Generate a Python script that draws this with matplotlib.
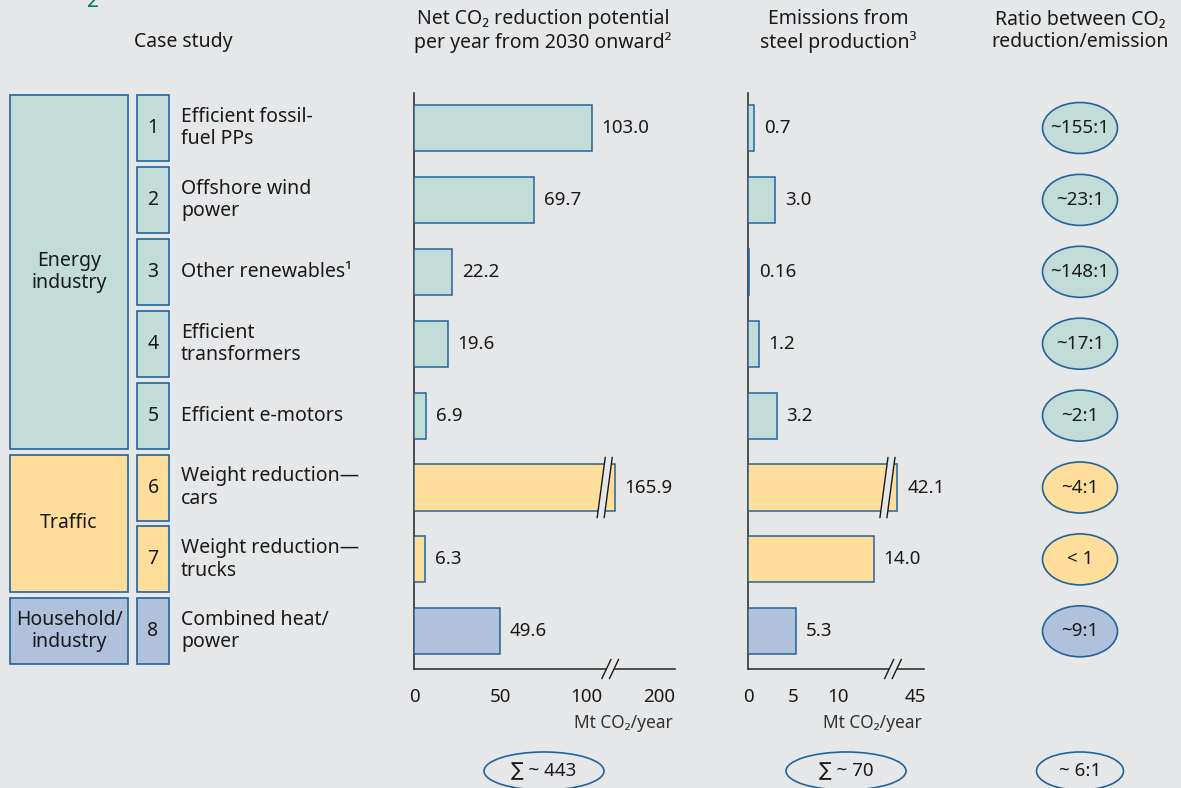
import numpy as np
import matplotlib
matplotlib.use('Agg')
import matplotlib.pyplot as plt
from matplotlib.patches import Rectangle, Ellipse, Polygon
from matplotlib.lines import Line2D
from matplotlib.transforms import Affine2D

plt.rcParams['font.family'] = ['Noto Sans', 'DejaVu Sans']

# data
case_numbers = ['1', '2', '3', '4', '5', '6', '7', '8']
case_studies = ['Efficient fossil-\nfuel PPs', 'Offshore wind\npower', 'Other renewables¹',
                'Efficient\ntransformers', 'Efficient e-motors', 'Weight reduction—\ncars',
                'Weight reduction—\ntrucks', 'Combined heat/\npower']
sectors = ['energy'] * 5 + ['traffic'] * 2 + ['household']
sector_names = {'energy': 'Energy\nindustry', 'traffic': 'Traffic', 'household': 'Household/\nindustry'}
reduction = [103.0, 69.7, 22.2, 19.6, 6.9, 165.9, 6.3, 49.6]
emissions = [0.7, 3.0, 0.16, 1.2, 3.2, 42.1, 14.0, 5.3]
ratios = ['~155:1', '~23:1', '~148:1', '~17:1', '~2:1', '~4:1', '< 1', '~9:1']
reduction_ticks = [0, 50, 100, 200]
emission_ticks = [0, 5, 10, 45]
totals = ['∑ ~ 443', '∑ ~ 70', '~ 6:1']
unit = 'Mt CO₂/year'

colors = {'energy': '#C2DDD7', 'traffic': '#FEDE9A', 'household': '#AFC1DB'}
EDGE = '#22649A'
BG = '#E6E7E9'
INK = '#1A1A1A'
FS = 14        # words
NFS = 13.5     # numbers
LS = 1.15
W, H = 1181, 788

fig = plt.figure(figsize=(W / 100, H / 100), dpi=100, facecolor=BG)
ov = fig.add_axes([0, 0, 1, 1])
ov.set_xlim(0, W)
ov.set_ylim(H, 0)
ov.axis('off')

ROW0, PITCH, HALF = 128, 71.9, 33
TOP, BASE = 93, 669


def row_y(i):
    return ROW0 + PITCH * i


def px_axes(l, t, r, b):
    return fig.add_axes([l / W, 1 - b / H, (r - l) / W, (b - t) / H])


def broken_scale(b, k):
    fwd = lambda x: np.where(x <= b, x, b + (x - b) * k)
    inv = lambda y: np.where(y <= b, y, b + (y - b) / k)
    return fwd, inv


def slash(ax, x, y, shift, half_h, dx, gap):
    # "//" break mark, sized in pixels around a data point
    cx, cy = ax.transData.transform((x, y))
    t = Affine2D().translate(cx + shift, cy)
    a = [(-gap / 2 - dx, -half_h), (-gap / 2 + dx, half_h)]
    b = [(gap / 2 - dx, -half_h), (gap / 2 + dx, half_h)]
    ax.add_patch(Polygon(a + b[::-1], closed=True, facecolor=BG, edgecolor='none',
                         transform=t, clip_on=False, zorder=5))
    for seg in (a, b):
        xs, ys = zip(*seg)
        ax.add_line(Line2D(xs, ys, color=INK, lw=1, transform=t, clip_on=False, zorder=6))


def bar_panel(left, right, values, ticks, ppu, brk, k, cap):
    ax = px_axes(left, TOP, right, BASE)
    ax.patch.set_alpha(0)
    fwd, inv = broken_scale(brk, k)
    ax.set_xscale('function', functions=(fwd, inv))
    ax.set_xlim(0, float(inv((right - left) / ppu)))
    ax.set_ylim((BASE - ROW0) / PITCH, -(ROW0 - TOP) / PITCH)
    for s in ('top', 'right'):
        ax.spines[s].set_visible(False)
    for s in ('left', 'bottom'):
        ax.spines[s].set_color('#333333')
        ax.spines[s].set_linewidth(1.2)
    ax.set_yticks([])
    ax.set_xticks(ticks)
    ax.set_xticklabels([str(t) for t in ticks])
    ax.tick_params(axis='x', length=0, pad=14, labelsize=NFS, labelcolor=INK)
    for i, v in enumerate(values):
        w = min(v, cap)
        ax.barh(i, w, height=0.64, color=colors[sectors[i]], edgecolor=EDGE, linewidth=1.1, zorder=3)
        ax.annotate(f'{v:g}' if v < 1 else f'{v:.1f}', (w, i), xytext=(7, 0), textcoords='offset points',
                    va='center', ha='left', fontsize=NFS, color=INK)
        if v > cap:
            slash(ax, w, i, -10, 30, 4, 7)
    slash(ax, cap, ax.get_ylim()[0], -4.5, 9.5, 4.5, 7.6)
    ov.text(right - 2, 723, unit, ha='right', va='center', fontsize=12.5, color='#333333')
    return ax


bar_panel(414, 675, reduction, reduction_ticks, 1.728, 116, 0.307, 116.5)
bar_panel(748, 924, emissions, emission_ticks, 9.0, 16.6, 0.069, 16.7)

# headers
ov.text(93, 7, '2', color='#00795E', fontsize=15, fontweight='bold', ha='center', va='baseline')
ov.text(183, 42, 'Case study', ha='center', va='center', fontsize=FS, color=INK)
ov.text(543, 31, 'Net CO₂ reduction potential\nper year from 2030 onward²', ha='center', va='center',
        fontsize=FS, color=INK, linespacing=LS)
ov.text(838, 31, 'Emissions from\nsteel production³', ha='center', va='center',
        fontsize=FS, color=INK, linespacing=LS)
ov.text(1080, 31, 'Ratio between CO₂\nreduction/emission', ha='center', va='center',
        fontsize=FS, color=INK, linespacing=LS)

# sector boxes
for sec in ('energy', 'traffic', 'household'):
    rows = [i for i, s in enumerate(sectors) if s == sec]
    top = row_y(rows[0]) - HALF
    bot = row_y(rows[-1]) + HALF
    ov.add_patch(Rectangle((10, top), 118, bot - top, facecolor=colors[sec], edgecolor=EDGE, lw=1.2))
    ov.text(69, (top + bot) / 2, sector_names[sec], ha='center', va='center', fontsize=FS,
            color=INK, linespacing=LS)

# case study rows + ratio ovals
for i, (n, name) in enumerate(zip(case_numbers, case_studies)):
    y = row_y(i)
    ov.add_patch(Rectangle((137, y - HALF), 32, 2 * HALF, facecolor=colors[sectors[i]], edgecolor=EDGE, lw=1.2))
    ov.text(153, y, n, ha='center', va='center', fontsize=FS, color=INK)
    ov.text(181, y, name, ha='left', va='center', fontsize=FS, color=INK, linespacing=LS)
    ov.add_patch(Ellipse((1080, y), 75, 51, facecolor=colors[sectors[i]], edgecolor=EDGE, lw=1.2))
    ov.text(1080, y, ratios[i], ha='center', va='center', fontsize=13.5, color=INK)

# totals
for cx, w, label in zip([544, 846, 1080], [120, 120, 87], totals):
    ov.add_patch(Ellipse((cx, 771), w, 38, facecolor='none', edgecolor=EDGE, lw=1.2))
    ov.text(cx, 771, label, ha='center', va='center', fontsize=NFS, color=INK)

fig.savefig('out.png', dpi=100, facecolor=BG)
